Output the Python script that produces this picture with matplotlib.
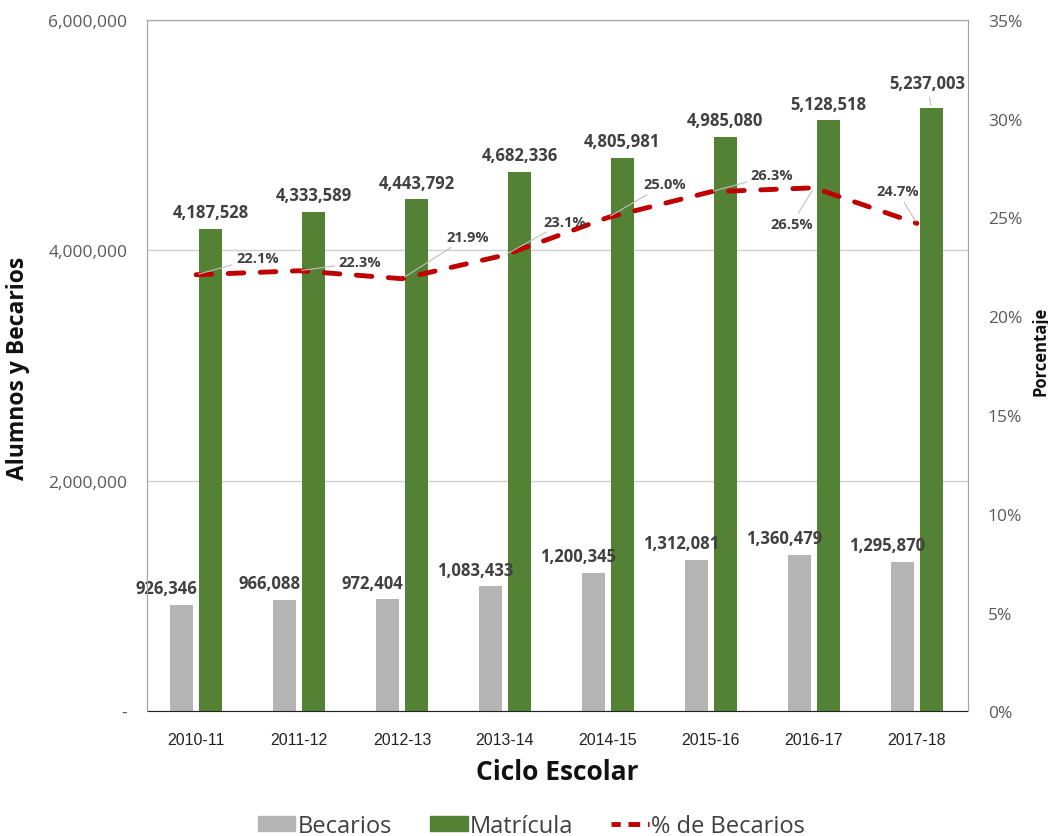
import matplotlib
matplotlib.use('Agg')
import matplotlib.pyplot as plt
from matplotlib.patches import Patch
from matplotlib.lines import Line2D
from matplotlib.ticker import FuncFormatter, MultipleLocator

ciclos = ['2010-11', '2011-12', '2012-13', '2013-14', '2014-15', '2015-16', '2016-17', '2017-18']
becarios = [926346, 966088, 972404, 1083433, 1200345, 1312081, 1360479, 1295870]
matricula = [4187528, 4333589, 4443792, 4682336, 4805981, 4985080, 5128518, 5237003]
pct_becarios = [22.1, 22.3, 21.9, 23.1, 25.0, 26.3, 26.5, 24.7]

GRAY = '#b4b4b4'
GREEN = '#548235'
RED = '#c00000'
TXT = '#404040'
BOLD = ['Open Sans', 'DejaVu Sans']

# label offsets (points) for the % labels, as placed in the original
pct_off = [(44, 12), (44, 6), (47, 30), (43, 24), (41, 24), (44, 12), (-16, -26), (-14, 23)]

fig = plt.figure(figsize=(10.48, 8.37), dpi=100)
ax = fig.add_axes([0.140, 0.149, 0.784, 0.826])
ax2 = ax.twinx()

x = list(range(len(ciclos)))
w = 0.22
ax.bar([i - 0.14 for i in x], becarios, width=w, color=GRAY, zorder=2)
ax.bar([i + 0.14 for i in x], matricula, width=w, color=GREEN, zorder=2)

ax.set_xlim(-0.48, 7.5)
ax.set_ylim(0, 6000000)
ax.yaxis.set_major_locator(MultipleLocator(2000000))
ax.yaxis.set_major_formatter(FuncFormatter(lambda v, p: '-' if v == 0 else f'{int(v):,}'))
ax.grid(axis='y', color='#d0d0d0', lw=1, zorder=0)
ax.set_axisbelow(True)
ax.set_xticks(x)
ax.set_xticklabels(ciclos, family=['Liberation Sans Narrow', 'Liberation Sans', 'DejaVu Sans'],
                   fontsize=11.5, color='#222222', stretch='condensed')
ax.tick_params(axis='x', length=0, pad=15)
ax.tick_params(axis='y', length=0, pad=14, labelsize=12.5, labelcolor='#595959')
for lbl in ax.get_yticklabels():
    lbl.set_family(['Open Sans', 'DejaVu Sans'])

for sp in ['left', 'top', 'right']:
    ax.spines[sp].set_color('#a6a6a6')
    ax2.spines[sp].set_color('#a6a6a6')
ax.spines['bottom'].set_color('#222222')
ax2.spines['bottom'].set_visible(False)

ax2.plot(x, pct_becarios, color=RED, lw=3.5, ls=(0, (3.2, 3.4)), dash_capstyle='round', zorder=5)
ax2.set_ylim(0, 35)
ax2.yaxis.set_major_locator(MultipleLocator(5))
ax2.yaxis.set_major_formatter(FuncFormatter(lambda v, p: f'{int(v)}%'))
ax2.tick_params(axis='y', length=0, pad=14, labelsize=12.5, labelcolor='#595959')
for lbl in ax2.get_yticklabels():
    lbl.set_family(['Open Sans', 'DejaVu Sans'])

# data labels
for i in x:
    ax.annotate(f'{becarios[i]:,}', (i - 0.14, becarios[i]), xytext=(-11, 12),
                textcoords='offset points', ha='center', va='center',
                fontsize=12, fontweight='bold', color=TXT, family=BOLD, zorder=6)
    dy = 18 if i == len(x) - 1 else 12
    ax.annotate(f'{matricula[i]:,}', (i + 0.14, matricula[i]), xytext=(-3 if dy > 12 else 0, dy),
                textcoords='offset points', ha='center', va='center',
                fontsize=12, fontweight='bold', color=TXT, family=BOLD, zorder=6,
                arrowprops=dict(arrowstyle='-', color='#bfbfbf', lw=0.8) if dy > 12 else None)
    ax2.annotate(f'{pct_becarios[i]:.1f}%', (i, pct_becarios[i]), xytext=pct_off[i],
                 textcoords='offset points', ha='center', va='center',
                 fontsize=10.5, fontweight='bold', color=TXT, family=BOLD, zorder=6,
                 arrowprops=dict(arrowstyle='-', color='#bfbfbf', lw=0.8, shrinkA=1, shrinkB=2))

fig.text(0.017, 0.560, 'Alumnos y Becarios', rotation=90, ha='center', va='center',
         fontsize=16.5, fontweight='bold', color='#111111', family=BOLD)
fig.text(0.993, 0.580, 'Porcentaje', rotation=90, ha='center', va='center',
         fontsize=12, fontweight='bold', color='#111111', family=BOLD)
fig.text(0.532, 0.0765, 'Ciclo Escolar', ha='center', va='center',
         fontsize=19, fontweight='bold', color='#111111', family=BOLD)

handles = [Patch(color=GRAY), Patch(color=GREEN),
           Line2D([0], [0], color=RED, lw=3.5, ls=(0.5, (2.4, 1.6)))]
fig.legend(handles, ['Becarios', 'Matrícula', '% de Becarios'], loc='center',
           bbox_to_anchor=(0.507, 0.012), ncol=3, frameon=False,
           prop={'family': ['Open Sans', 'DejaVu Sans'], 'size': 17},
           labelcolor='#404040', handlelength=1.6, handleheight=0.6,
           handletextpad=0.1, columnspacing=1.6)

plt.savefig('out.png')
plt.close()
